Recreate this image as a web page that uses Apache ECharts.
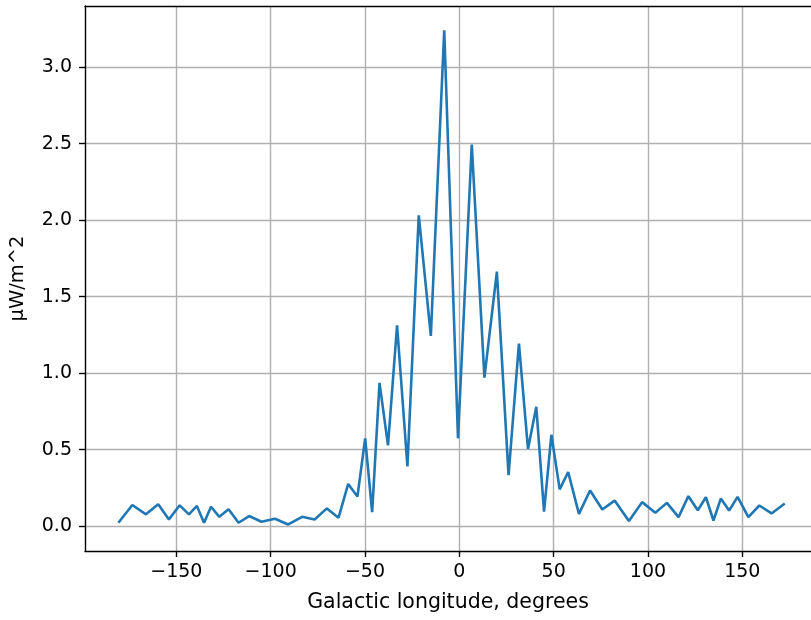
<!DOCTYPE html>
<html>
<head>
<meta charset="utf-8">
<script src="https://cdn.jsdelivr.net/npm/echarts@6/dist/echarts.min.js"></script>
<style>
  html, body { margin: 0; padding: 0; background: #fff; }
  #chart { width: 811px; height: 620px; }
</style>
</head>
<body>
<div id="chart"></div>
<script>
// galactic longitude (deg) of each sample
const longitudes = [
  -180.7, -173.3, -166.1, -159.6, -153.9, -148.2, -143.3, -139.1, -135.3, -131.6,
  -127.2, -122.3, -117.0, -111.4, -104.9, -97.7, -90.7, -83.3, -76.7, -70.2,
  -64.0, -58.9, -54.0, -49.9, -46.2, -42.3, -37.8, -33.0, -27.5, -21.5,
  -15.1, -8.0, -0.7, 6.6, 13.3, 19.9, 26.1, 31.6, 36.4, 40.8,
  44.9, 48.8, 53.2, 57.7, 63.4, 69.3, 75.8, 82.3, 89.9, 96.9,
  103.9, 110.0, 116.2, 121.4, 126.4, 130.7, 134.7, 138.6, 143.0, 147.5,
  153.2, 159.0, 165.5, 172.5
];
// received power, µW/m^2
const power = [
  0.022, 0.138, 0.077, 0.143, 0.044, 0.136, 0.077, 0.132, 0.022, 0.127,
  0.061, 0.110, 0.022, 0.066, 0.029, 0.048, 0.011, 0.061, 0.044, 0.116,
  0.055, 0.276, 0.194, 0.574, 0.092, 0.936, 0.528, 1.313, 0.390, 2.031,
  1.244, 3.241, 0.574, 2.495, 0.971, 1.664, 0.333, 1.193, 0.505, 0.780,
  0.095, 0.597, 0.240, 0.354, 0.080, 0.233, 0.109, 0.167, 0.033, 0.157,
  0.087, 0.152, 0.059, 0.196, 0.104, 0.189, 0.037, 0.180, 0.102, 0.191,
  0.059, 0.135, 0.083, 0.148
];
const xTicks = [-150, -100, -50, 0, 50, 100, 150];
const yTicks = [0, 0.5, 1.0, 1.5, 2.0, 2.5, 3.0];

const font = 'DejaVu Sans';
const fs = 19;
const chart = echarts.init(document.getElementById('chart'), null, { renderer: 'canvas' });

// the source image is cropped on the right: x max is the value at the canvas edge,
// and there is no right spine, so the top spine is drawn by a bare second x axis
chart.setOption({
  animation: false,
  backgroundColor: '#fff',
  grid: { left: 85, right: 0, top: 6, bottom: 69 },
  xAxis: [{
    type: 'value',
    min: -198.4,
    max: 186.4,
    name: 'Galactic longitude, degrees',
    nameLocation: 'middle',
    nameGap: 41,
    nameTextStyle: { color: '#000', fontSize: 20.5, fontFamily: font },
    axisLine: { show: true, onZero: false, lineStyle: { color: '#000', width: 1.4 } },
    axisTick: { show: true, inside: false, length: 6, customValues: xTicks, lineStyle: { color: '#000', width: 1.4 } },
    axisLabel: {
      customValues: xTicks,
      margin: 12,
      color: '#000', fontSize: fs, fontFamily: font,
      formatter: v => String(v).replace('-', '\u2212')
    },
    splitLine: { show: true, lineStyle: { color: '#b0b0b0', width: 1.4 } }
  }, {
    type: 'value',
    position: 'top',
    min: -198.4,
    max: 186.4,
    axisLine: { show: true, onZero: false, lineStyle: { color: '#000', width: 1.4 } },
    axisTick: { show: false },
    axisLabel: { show: false },
    splitLine: { show: false }
  }],
  yAxis: {
    type: 'value',
    min: -0.1625,
    max: 3.40,
    name: 'µW/m^2',
    nameLocation: 'middle',
    nameGap: 57,
    nameRotate: 90,
    nameTextStyle: { color: '#000', fontSize: 19.5, fontFamily: font },
    axisLine: { show: true, onZero: false, lineStyle: { color: '#000', width: 1.4 } },
    axisTick: { show: true, inside: false, length: 6, customValues: yTicks, lineStyle: { color: '#000', width: 1.4 } },
    axisLabel: {
      customValues: yTicks,
      margin: 13,
      color: '#000', fontSize: fs, fontFamily: font,
      formatter: v => v.toFixed(1)
    },
    splitLine: { show: true, lineStyle: { color: '#b0b0b0', width: 1.4 } }
  },
  series: [{
    type: 'line',
    xAxisIndex: 0,
    data: longitudes.map((x, i) => [x, power[i]]),
    showSymbol: false,
    symbol: 'none',
    lineStyle: { color: '#1f77b4', width: 2.6 },
    z: 3
  }]
});
</script>
</body>
</html>
